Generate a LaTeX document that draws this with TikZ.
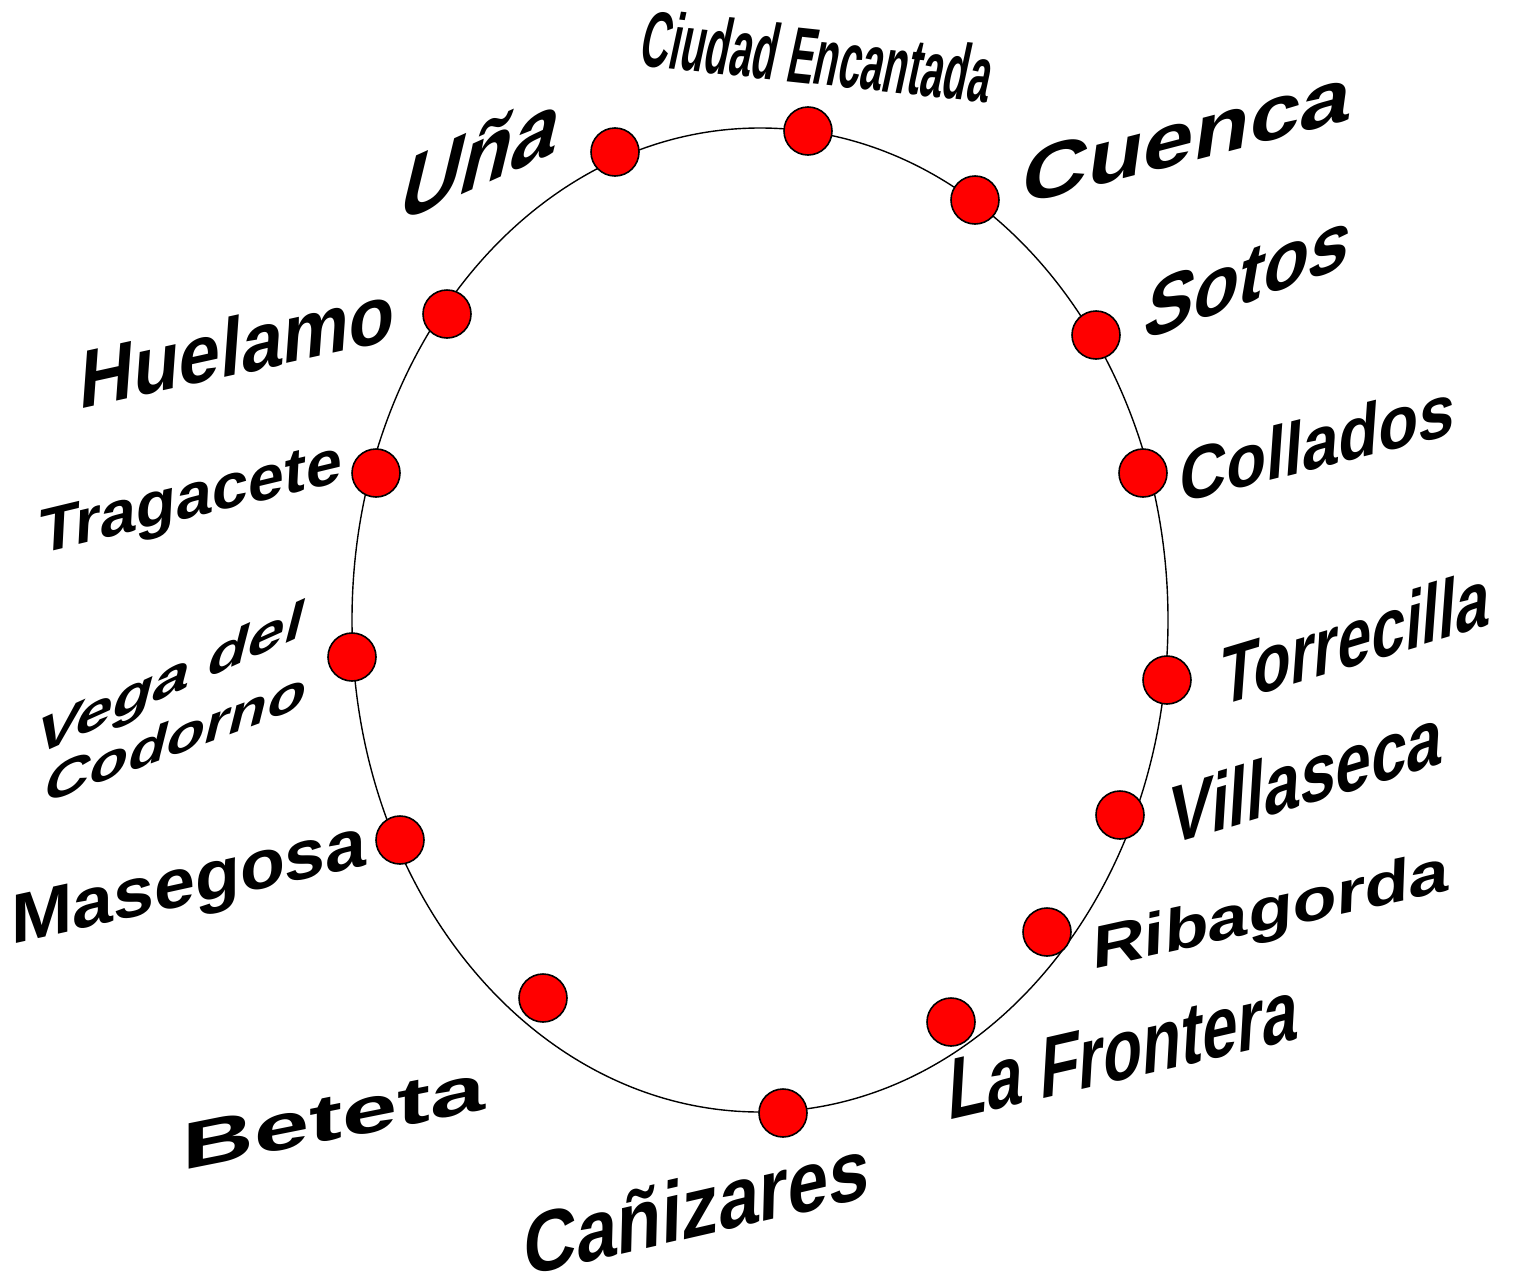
\documentclass[tikz,border=0pt]{standalone}
\usepackage{fontspec}
\setmainfont{Liberation Sans}
\begin{document}
\begin{tikzpicture}[x=1pt,y=-1pt,
  dot/.style={circle, draw=black, line width=1.6pt, fill=red, minimum size=48pt, inner sep=0pt},
  lbl/.style={anchor=base, inner sep=0pt, font=\bfseries}]
\fill[white] (0,0) rectangle (1515,1277);
\useasboundingbox (0,0) rectangle (1515,1277);
\draw[line width=1.4pt] (760,620) ellipse [x radius=408pt, y radius=492pt];
% dots
\node[dot] (d1) at (808,131) {};
\node[dot] (d2) at (975,200) {};
\node[dot] (d3) at (1096,335) {};
\node[dot] (d4) at (1143,473) {};
\node[dot] (d5) at (1167,680) {};
\node[dot] (d6) at (1120,815) {};
\node[dot] (d7) at (1047,932) {};
\node[dot] (d8) at (951,1022) {};
\node[dot] (d9) at (783,1113) {};
\node[dot] (d10) at (543,998) {};
\node[dot] (d11) at (400,840) {};
\node[dot] (d12) at (352,657) {};
\node[dot] (d13) at (376,473) {};
\node[dot] (d14) at (447,314) {};
\node[dot] (d15) at (615,152) {};
% labels
\node[lbl, yslant=-0.107, xscale=0.5, xslant=0.42] (l1) at (812,84) {\fontsize{80}{80}\selectfont Ciudad Encantada};
\node[lbl, yslant=0.26, xscale=1.2, xslant=0.12] (l2) at (1184,163) {\fontsize{76}{76}\selectfont Cuenca};
\node[lbl, yslant=0.37, xscale=0.92, xslant=0.2] (l3) at (1244,304) {\fontsize{80}{80}\selectfont Sotos};
\node[lbl, yslant=0.25, xscale=0.88, xslant=0.08] (l4) at (1316,469) {\fontsize{74}{74}\selectfont Collados};
\node[lbl, yslant=0.30, xscale=0.74, xslant=0.1] (l5) at (1354,666) {\fontsize{82}{82}\selectfont Torrecilla};
\node[lbl, yslant=0.30, xscale=0.78, xslant=0.08] (l6) at (1305,805) {\fontsize{82}{82}\selectfont Villaseca};
\node[lbl, yslant=0.22, xscale=1.2, xslant=0.03] (l7) at (1270,930) {\fontsize{60}{60}\selectfont Ribagorda};
\node[lbl, yslant=0.23, xscale=0.73, xslant=0.08] (l8) at (1122,1080) {\fontsize{87}{87}\selectfont La Frontera};
\node[lbl, yslant=0.23, xscale=0.85, xslant=0.03] (l9) at (696,1237) {\fontsize{86}{86}\selectfont Cañizares};
\node[lbl, yslant=0.2, xscale=1.5] (l10) at (334,1140) {\fontsize{66}{66}\selectfont Beteta};
\node[lbl, yslant=0.22, xscale=1.05] (l11) at (189,905) {\fontsize{70}{70}\selectfont Masegosa};
\node[lbl, yslant=0.45, xscale=1.32, xslant=0.22] (l12a) at (166,697) {\fontsize{50}{50}\selectfont Vega del};
\node[lbl, yslant=0.37, xscale=1.25, xslant=0.22] (l12b) at (172,756) {\fontsize{50}{50}\selectfont Codorno};
\node[lbl, yslant=0.24, xscale=1.03, xslant=0.05] (l13) at (190,518) {\fontsize{63}{63}\selectfont Tragacete};
\node[lbl, yslant=0.22, xscale=0.91, xslant=0.08] (l14) at (236,375) {\fontsize{82}{82}\selectfont Huelamo};
\node[lbl, yslant=0.45, xscale=0.97, xslant=0.28] (l15) at (474,189) {\fontsize{86}{86}\selectfont Uña};
\end{tikzpicture}
\end{document}
